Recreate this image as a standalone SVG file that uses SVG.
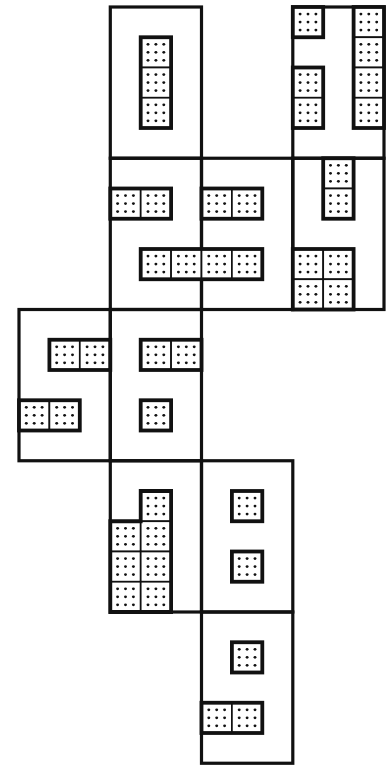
<svg xmlns="http://www.w3.org/2000/svg" xmlns:xlink="http://www.w3.org/1999/xlink" width="392" height="766" viewBox="0 0 392 766">
<style>
.cell{fill:none;stroke:#111;stroke-width:3.2}
.grp{fill:none;stroke:#111;stroke-width:3.8;stroke-linejoin:miter}
.tb{fill:#fff;stroke:#111;stroke-width:1.7}
.dot{fill:#111}
</style>
<defs>
<g id="tile">
<rect class="tb" x="0" y="0" width="30.4" height="30.25"/>
<circle class="dot" cx="7.3" cy="7.1" r="1.45"/><circle class="dot" cx="15.2" cy="7.1" r="1.45"/><circle class="dot" cx="23.1" cy="7.1" r="1.45"/>
<circle class="dot" cx="7.3" cy="15.1" r="1.45"/><circle class="dot" cx="15.2" cy="15.1" r="1.45"/><circle class="dot" cx="23.1" cy="15.1" r="1.45"/>
<circle class="dot" cx="7.3" cy="23.1" r="1.45"/><circle class="dot" cx="15.2" cy="23.1" r="1.45"/><circle class="dot" cx="23.1" cy="23.1" r="1.45"/>
</g>
</defs>
<rect width="392" height="766" fill="#fff"/>

<g id="cell-c1r0">
<rect class="cell" x="110.3" y="7" width="91.2" height="151.25"/>
<use href="#tile" x="140.7" y="37.25"/><use href="#tile" x="140.7" y="67.5"/><use href="#tile" x="140.7" y="97.75"/>
<rect class="grp" x="140.7" y="37.25" width="30.4" height="90.75"/>
</g>

<g id="cell-c3r0">
<rect class="cell" x="292.8" y="7" width="91.2" height="151.25"/>
<use href="#tile" x="292.8" y="7"/>
<rect class="grp" x="292.8" y="7" width="30.4" height="30.25"/>
<use href="#tile" x="292.8" y="67.5"/><use href="#tile" x="292.8" y="97.75"/>
<rect class="grp" x="292.8" y="67.5" width="30.4" height="60.5"/>
<use href="#tile" x="353.6" y="7"/><use href="#tile" x="353.6" y="37.25"/><use href="#tile" x="353.6" y="67.5"/><use href="#tile" x="353.6" y="97.75"/>
<rect class="grp" x="353.6" y="7" width="30.4" height="121"/>
</g>

<g id="cell-c1r1">
<rect class="cell" x="110.3" y="158.25" width="91.2" height="151.25"/>
<use href="#tile" x="110.3" y="188.5"/><use href="#tile" x="140.7" y="188.5"/>
<rect class="grp" x="110.3" y="188.5" width="60.8" height="30.25"/>
</g>

<g id="cell-c2r1">
<rect class="cell" x="201.5" y="158.25" width="91.3" height="151.25"/>
<use href="#tile" x="201.5" y="188.5"/><use href="#tile" x="231.9" y="188.5"/>
<rect class="grp" x="201.5" y="188.5" width="60.8" height="30.25"/>
</g>

<g id="bar-r1">
<use href="#tile" x="140.7" y="249"/><use href="#tile" x="171.1" y="249"/><use href="#tile" x="201.5" y="249"/><use href="#tile" x="231.9" y="249"/>
<rect class="grp" x="140.7" y="249" width="121.6" height="30.25"/>
</g>

<g id="cell-c3r1">
<rect class="cell" x="292.8" y="158.25" width="91.2" height="151.25"/>
<use href="#tile" x="323.2" y="158.25"/><use href="#tile" x="323.2" y="188.5"/>
<rect class="grp" x="323.2" y="158.25" width="30.4" height="60.5"/>
<use href="#tile" x="292.8" y="249"/><use href="#tile" x="323.2" y="249"/><use href="#tile" x="292.8" y="279.25"/><use href="#tile" x="323.2" y="279.25"/>
<rect class="grp" x="292.8" y="249" width="60.8" height="60.5"/>
</g>

<g id="cell-c0r2">
<rect class="cell" x="19" y="309.5" width="91.3" height="151.25"/>
<use href="#tile" x="49.4" y="339.75"/><use href="#tile" x="79.8" y="339.75"/>
<rect class="grp" x="49.4" y="339.75" width="60.9" height="30.25"/>
<use href="#tile" x="19" y="400.25"/><use href="#tile" x="49.4" y="400.25"/>
<rect class="grp" x="19" y="400.25" width="60.8" height="30.25"/>
</g>

<g id="cell-c1r2">
<rect class="cell" x="110.3" y="309.5" width="91.2" height="151.25"/>
<use href="#tile" x="140.7" y="339.75"/><use href="#tile" x="171.1" y="339.75"/>
<rect class="grp" x="140.7" y="339.75" width="60.8" height="30.25"/>
<use href="#tile" x="140.7" y="400.25"/>
<rect class="grp" x="140.7" y="400.25" width="30.4" height="30.25"/>
</g>

<g id="cell-c1r3">
<rect class="cell" x="110.3" y="460.75" width="91.2" height="151.25"/>
<use href="#tile" x="140.7" y="491"/>
<use href="#tile" x="110.3" y="521.25"/><use href="#tile" x="140.7" y="521.25"/>
<use href="#tile" x="110.3" y="551.5"/><use href="#tile" x="140.7" y="551.5"/>
<use href="#tile" x="110.3" y="581.75"/><use href="#tile" x="140.7" y="581.75"/>
<path class="grp" d="M140.7,491 H171.1 V612 H110.3 V521.25 H140.7 Z"/>
</g>

<g id="cell-c2r3">
<rect class="cell" x="201.5" y="460.75" width="91.3" height="151.25"/>
<use href="#tile" x="231.9" y="491"/>
<rect class="grp" x="231.9" y="491" width="30.4" height="30.25"/>
<use href="#tile" x="231.9" y="551.5"/>
<rect class="grp" x="231.9" y="551.5" width="30.4" height="30.25"/>
</g>

<g id="cell-c2r4">
<rect class="cell" x="201.5" y="612" width="91.3" height="151.25"/>
<use href="#tile" x="231.9" y="642.25"/>
<rect class="grp" x="231.9" y="642.25" width="30.4" height="30.25"/>
<use href="#tile" x="201.5" y="702.75"/><use href="#tile" x="231.9" y="702.75"/>
<rect class="grp" x="201.5" y="702.75" width="60.8" height="30.25"/>
</g>

<g id="connectors"></g>
</svg>
